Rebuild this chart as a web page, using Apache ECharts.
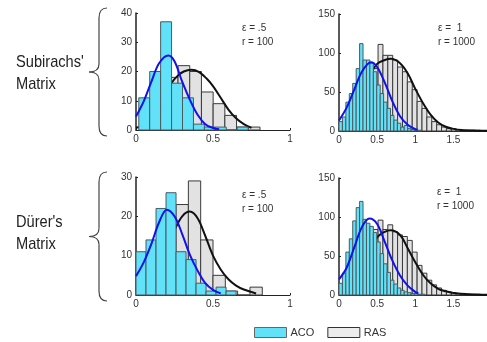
<!DOCTYPE html>
<html><head><meta charset="utf-8">
<script src="https://cdn.jsdelivr.net/npm/echarts@6/dist/echarts.min.js"></script>
<style>html,body{margin:0;padding:0;background:#fff}#c{width:487px;height:342px}</style>
</head><body><div id="c"></div>
<script>
// ---------- Subirachs' Matrix, eps = .5, r = 100 (top-left) ----------
const tlAcoEdges = [0.018, 0.089, 0.16, 0.231, 0.302, 0.373, 0.444, 0.515, 0.586, 0.657, 0.728];
const tlAcoCounts = [11, 20, 37, 16, 11, 2, 1, 1, 0, 1];
const tlRasEdges = [0.045, 0.121, 0.197, 0.273, 0.349, 0.425, 0.501, 0.577, 0.653, 0.729, 0.805];
const tlRasCounts = [3, 8, 18, 22, 20, 13, 9, 5, 1, 1];
const tlAcoFitX = [0, 0.05, 0.1, 0.15, 0.21, 0.25, 0.3, 0.35, 0.4, 0.45, 0.5, 0.54];
const tlAcoFitY = [4.6, 9.8, 16.5, 22.8, 25.5, 23.5, 16.5, 10.3, 5.2, 2, 0.7, 0.3];
const tlRasFitX = [0, 0.05, 0.1, 0.15, 0.2, 0.23, 0.27, 0.31, 0.36, 0.41, 0.46, 0.5, 0.55, 0.6, 0.65, 0.7, 0.75];
const tlRasFitY = [0.8, 1.5, 3.5, 7.5, 12.5, 16, 18.5, 20, 20.6, 19.8, 17.5, 15, 11, 7, 4, 2, 0.7];

// ---------- Subirachs' Matrix, eps = 1, r = 1000 (top-right) ----------
const trAcoEdges = [0, 0.045, 0.09, 0.135, 0.18, 0.225, 0.27, 0.315, 0.36, 0.405, 0.45, 0.495, 0.54, 0.585, 0.63, 0.675, 0.72, 0.765, 0.81, 0.855, 0.9, 0.945, 0.99, 1.035, 1.08];
const trAcoCounts = [12, 18, 37, 48, 61, 80, 112, 91, 91, 87, 76, 59, 48, 37, 29, 20, 14, 10, 5, 7, 3, 2, 1, 1];
const trRasEdges = [0, 0.064, 0.128, 0.192, 0.256, 0.32, 0.384, 0.448, 0.512, 0.576, 0.64, 0.704, 0.768, 0.832, 0.896, 0.96, 1.024, 1.088, 1.152, 1.216, 1.28, 1.344, 1.408, 1.472, 1.536, 1.6, 1.664, 1.728, 1.792, 1.856];
const trRasCounts = [3, 8, 18, 32, 48, 62, 74, 80, 111, 97, 97, 91, 82, 76, 63, 53, 38, 29, 18, 12, 8, 5, 3, 3, 2, 1, 1, 1, 1];
const trAcoFitX = [0, 0.1, 0.2, 0.3, 0.42, 0.5, 0.6, 0.7, 0.8, 0.9, 1.0, 1.03];
const trAcoFitY = [13.5, 30, 53, 76, 88, 82, 62, 38, 19, 8, 2.5, 1.5];
const trRasFitX = [0, 0.1, 0.2, 0.3, 0.4, 0.5, 0.6, 0.68, 0.8, 0.9, 1.0, 1.1, 1.2, 1.3, 1.4, 1.5, 1.6, 1.8, 1.94];
const trRasFitY = [2.5, 11, 27, 46, 70, 86, 91, 92.5, 87, 74, 54, 36, 21, 11, 5.5, 2.7, 1.3, 0.4, 0.2];

// ---------- Durer's Matrix, eps = .5, r = 100 (bottom-left) ----------
const blAcoEdges = [0, 0.065, 0.13, 0.195, 0.26, 0.325, 0.39, 0.455, 0.52, 0.585, 0.65];
const blAcoCounts = [11, 14, 22, 26, 11, 9, 3, 1, 2, 1];
const blRasEdges = [0.02, 0.1, 0.18, 0.26, 0.34, 0.42, 0.5, 0.58, 0.66, 0.74, 0.82];
const blRasCounts = [4, 8, 14, 23, 29, 14, 5, 1, 0, 2];
const blAcoFitX = [0, 0.05, 0.1, 0.15, 0.2, 0.25, 0.3, 0.35, 0.4, 0.45, 0.5, 0.55];
const blAcoFitY = [4.8, 8.3, 13, 18.5, 21.7, 20, 15.5, 10.2, 6.2, 3, 1.3, 0.4];
const blRasFitX = [0, 0.05, 0.1, 0.15, 0.2, 0.25, 0.3, 0.35, 0.4, 0.45, 0.5, 0.55, 0.6, 0.65, 0.7, 0.78];
const blRasFitY = [1, 1.8, 4, 7.5, 12, 16.5, 20, 21.2, 19.5, 15, 10, 6.5, 4, 2.4, 1.4, 0.4];

// ---------- Durer's Matrix, eps = 1, r = 1000 (bottom-right) ----------
const brAcoEdges = [0, 0.045, 0.09, 0.135, 0.18, 0.225, 0.27, 0.315, 0.36, 0.405, 0.45, 0.495, 0.54, 0.585, 0.63, 0.675, 0.72, 0.765, 0.81, 0.855, 0.9, 0.945, 0.99, 1.035, 1.08, 1.125];
const brAcoCounts = [15, 28, 55, 72, 95, 112, 120, 97, 92, 88, 80, 68, 53, 40, 29, 19, 14, 9, 6, 4, 3, 2, 2, 1, 1];
const brRasEdges = [0, 0.064, 0.128, 0.192, 0.256, 0.32, 0.384, 0.448, 0.512, 0.576, 0.64, 0.704, 0.768, 0.832, 0.896, 0.96, 1.024, 1.088, 1.152, 1.216, 1.28, 1.344, 1.408, 1.472, 1.536, 1.6, 1.664, 1.728, 1.792, 1.856];
const brRasCounts = [4, 10, 22, 36, 52, 66, 76, 84, 96, 84, 90, 81, 77, 75, 70, 55, 38, 28, 19, 13, 9, 6, 4, 3, 2, 2, 1, 1, 1];
const brAcoFitX = [0, 0.1, 0.2, 0.3, 0.4, 0.5, 0.6, 0.7, 0.8, 0.9, 1.0, 1.04];
const brAcoFitY = [20, 35, 61, 87, 98, 91, 68, 44, 25, 12, 4, 2];
const brRasFitX = [0, 0.1, 0.2, 0.3, 0.4, 0.5, 0.6, 0.675, 0.8, 0.9, 1.0, 1.1, 1.2, 1.3, 1.4, 1.5, 1.7, 1.94];
const brRasFitY = [3, 10, 22, 38, 56, 74, 81, 83, 77, 60, 42, 26, 15, 8, 4.7, 2.6, 1, 0.3];

// ---------- labels ----------
const rowLabels = [["Subirachs'", "Matrix"], ["Dürer's", "Matrix"]];
const panelNotes = [["ε = .5", "r = 100"], ["ε =  1", "r = 1000"], ["ε = .5", "r = 100"], ["ε =  1", "r = 1000"]];
const yMax = [40, 150, 30, 150];
const yStep = [10, 50, 10, 50];
const xMax = [1, 1.94, 1, 1.94];
const legendNames = ['ACO', 'RAS'];

const ACO_FILL = '#62e2f8', ACO_EDGE = '#4a5a60';
const RAS_FILL = '#e2e2e2', RAS_EDGE = '#3a3a3a';
const FONT = 'Liberation Sans, Arial, sans-serif';

const grids = [
  {left: 136, top: 13, width: 154, height: 117},
  {left: 339, top: 14, width: 148, height: 117},
  {left: 136, top: 177, width: 154, height: 118},
  {left: 339, top: 178, width: 148, height: 117}
];

function histSeries(name, gi, edges, counts, fill, stroke, z) {
  return {
    type: 'custom', name: name, xAxisIndex: gi, yAxisIndex: gi, z: z,
    data: counts.map((c, i) => [edges[i], edges[i + 1], c]),
    encode: {x: [0, 1], y: 2},
    itemStyle: {color: fill, borderColor: stroke},
    renderItem: function (params, api) {
      const p0 = api.coord([api.value(0), api.value(2)]);
      const p1 = api.coord([api.value(1), 0]);
      return {type: 'rect', shape: {x: p0[0], y: p0[1], width: p1[0] - p0[0], height: p1[1] - p0[1]},
        style: {fill: fill, stroke: stroke, lineWidth: 1}};
    }
  };
}
function fitSeries(gi, xs, ys, color, z) {
  return {type: 'line', xAxisIndex: gi, yAxisIndex: gi, z: z, silent: true,
    data: xs.map((x, i) => [x, ys[i]]), smooth: 0.35, showSymbol: false, symbol: 'none',
    lineStyle: {color: color, width: 2}};
}

const panels = [
  [tlAcoEdges, tlAcoCounts, tlRasEdges, tlRasCounts, tlAcoFitX, tlAcoFitY, tlRasFitX, tlRasFitY],
  [trAcoEdges, trAcoCounts, trRasEdges, trRasCounts, trAcoFitX, trAcoFitY, trRasFitX, trRasFitY],
  [blAcoEdges, blAcoCounts, blRasEdges, blRasCounts, blAcoFitX, blAcoFitY, blRasFitX, blRasFitY],
  [brAcoEdges, brAcoCounts, brRasEdges, brRasCounts, brAcoFitX, brAcoFitY, brRasFitX, brRasFitY]
];

const series = [];
panels.forEach((p, gi) => {
  series.push(histSeries('RAS', gi, p[2], p[3], RAS_FILL, RAS_EDGE, 1));
  series.push(fitSeries(gi, p[6], p[7], '#111111', 2));
  series.push(histSeries('ACO', gi, p[0], p[1], ACO_FILL, ACO_EDGE, 3));
  series.push(fitSeries(gi, p[4], p[5], '#1010f0', 4));
});

const axisText = {fontSize: 10, color: '#333', fontFamily: FONT};
const xAxes = grids.map((g, i) => ({
  gridIndex: i, type: 'value', min: 0, max: xMax[i], interval: 0.5,
  axisLine: {show: true, lineStyle: {color: '#222', width: 1}},
  axisTick: {show: true, inside: true, length: 2, lineStyle: {color: '#222'}},
  splitLine: {show: false},
  axisLabel: Object.assign({margin: 4, showMaxLabel: xMax[i] === 1}, axisText)
}));
const yAxes = grids.map((g, i) => ({
  gridIndex: i, type: 'value', min: 0, max: yMax[i], interval: yStep[i],
  axisLine: {show: true, lineStyle: {color: '#222', width: 1.5}},
  axisTick: {show: true, inside: true, length: 2, lineStyle: {color: '#222'}},
  splitLine: {show: false},
  axisLabel: Object.assign({margin: 4}, axisText)
}));

const notePos = [[242, 29], [438, 29], [242, 196], [437, 193]];
const graphics = [];
notePos.forEach((pos, i) => {
  graphics.push({type: 'text', x: pos[0], y: pos[1] - 6, style: {text: panelNotes[i][0], fill: '#333', font: '10px ' + FONT}});
  graphics.push({type: 'text', x: pos[0], y: pos[1] + 8, style: {text: panelNotes[i][1], fill: '#333', font: '10px ' + FONT}});
});
const rowTextPos = [[16, 53.5, 76], [16, 214, 236]];
rowTextPos.forEach((pos, i) => {
  graphics.push({type: 'text', x: pos[0], y: pos[1], scaleX: 0.86, style: {text: rowLabels[i][0], font: '17px ' + FONT, fill: '#222'}});
  graphics.push({type: 'text', x: pos[0], y: pos[2], scaleX: 0.86, style: {text: rowLabels[i][1], font: '17px ' + FONT, fill: '#222'}});
});
function brace(y0, y1, xTip, xEnd) {
  const m = (y0 + y1) / 2, xm = (xTip + xEnd) / 2 + 1;
  const st = {fill: null, stroke: '#444', lineWidth: 1.2};
  return [
    {type: 'bezierCurve', shape: {x1: xEnd, y1: y0, cpx1: xm, cpy1: y0, x2: xm, y2: y0 + 10}, style: st},
    {type: 'line', shape: {x1: xm, y1: y0 + 10, x2: xm, y2: m - 8}, style: st},
    {type: 'bezierCurve', shape: {x1: xm, y1: m - 8, cpx1: xm, cpy1: m, x2: xTip, y2: m}, style: st},
    {type: 'bezierCurve', shape: {x1: xTip, y1: m, cpx1: xm, cpy1: m, x2: xm, y2: m + 8}, style: st},
    {type: 'line', shape: {x1: xm, y1: m + 8, x2: xm, y2: y1 - 10}, style: st},
    {type: 'bezierCurve', shape: {x1: xm, y1: y1 - 10, cpx1: xm, cpy1: y1, x2: xEnd, y2: y1}, style: st}
  ];
}
brace(8, 136, 89, 107).forEach(e => graphics.push(e));
brace(172, 301, 89, 107).forEach(e => graphics.push(e));

const chart = echarts.init(document.getElementById('c'), null, {renderer: 'canvas'});
chart.setOption({
  animation: false,
  backgroundColor: '#fff',
  grid: grids,
  xAxis: xAxes,
  yAxis: yAxes,
  legend: {
    left: 254, top: 327, padding: 0, itemWidth: 32, itemHeight: 10, itemGap: 13, icon: 'rect',
    textStyle: {fontSize: 11, color: '#333', fontFamily: FONT, padding: [0, 0, 0, -1]},
    data: [
      {name: legendNames[0], itemStyle: {color: ACO_FILL, borderColor: '#666', borderWidth: 1}},
      {name: legendNames[1], itemStyle: {color: '#ececec', borderColor: '#333', borderWidth: 1}}
    ]
  },
  graphic: graphics,
  series: series
});
</script></body></html>
